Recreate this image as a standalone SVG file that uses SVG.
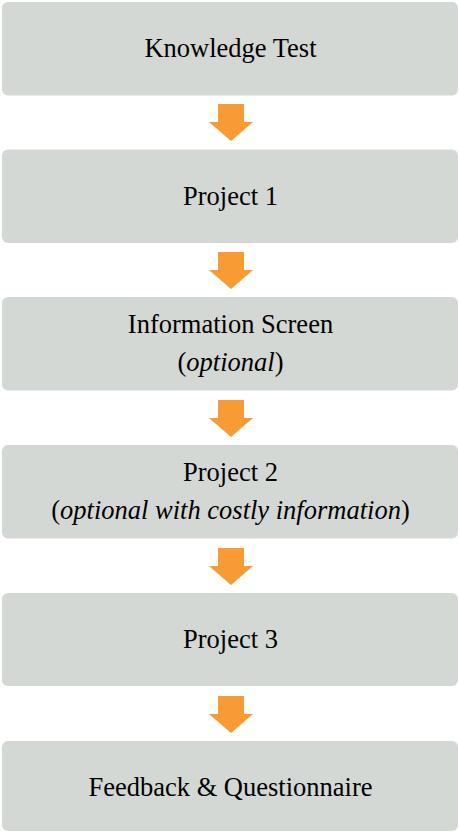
<svg xmlns="http://www.w3.org/2000/svg" width="459" height="832" viewBox="0 0 459 832">
<defs>
<path id="a" fill="#f99b35" d="M218 0 H244 V18 H253 L231 37 L209 18 H218 Z"/>
</defs>
<rect width="459" height="832" fill="#fff"/>
<g id="n1"><rect fill="#d4d8d5" x="2" y="2" width="456" height="93.5" rx="6"/><text font-family="'Liberation Serif'" font-size="26.5" text-anchor="middle" x="230.5" y="57">Knowledge Test</text></g>
<g id="n2"><rect fill="#d4d8d5" x="2" y="149.5" width="456" height="93.5" rx="6"/><text font-family="'Liberation Serif'" font-size="26.5" text-anchor="middle" x="230.5" y="205">Project 1</text></g>
<g id="n3"><rect fill="#d4d8d5" x="2" y="297" width="456" height="93.5" rx="6"/><text font-family="'Liberation Serif'" font-size="26.5" text-anchor="middle" x="230.5" y="333">Information Screen</text><text font-family="'Liberation Serif'" font-size="26.5" text-anchor="middle" x="230.5" y="371">(<tspan font-style="italic">optional</tspan>)</text></g>
<g id="n4"><rect fill="#d4d8d5" x="2" y="445" width="456" height="93.5" rx="6"/><text font-family="'Liberation Serif'" font-size="26.5" text-anchor="middle" x="230.5" y="481">Project 2</text><text font-family="'Liberation Serif'" font-size="26.5" text-anchor="middle" x="230.5" y="519">(<tspan font-style="italic">optional with costly information</tspan>)</text></g>
<g id="n5"><rect fill="#d4d8d5" x="2" y="593" width="456" height="93" rx="6"/><text font-family="'Liberation Serif'" font-size="26.5" text-anchor="middle" x="230.5" y="648">Project 3</text></g>
<g id="n6"><rect fill="#d4d8d5" x="2" y="741" width="456" height="90" rx="6"/><text font-family="'Liberation Serif'" font-size="26.5" text-anchor="middle" x="230.5" y="796">Feedback &amp; Questionnaire</text></g>
<g id="connectors">
<use href="#a" y="104"/>
<use href="#a" y="252"/>
<use href="#a" y="400"/>
<use href="#a" y="548"/>
<use href="#a" y="696"/>
</g>
</svg>
